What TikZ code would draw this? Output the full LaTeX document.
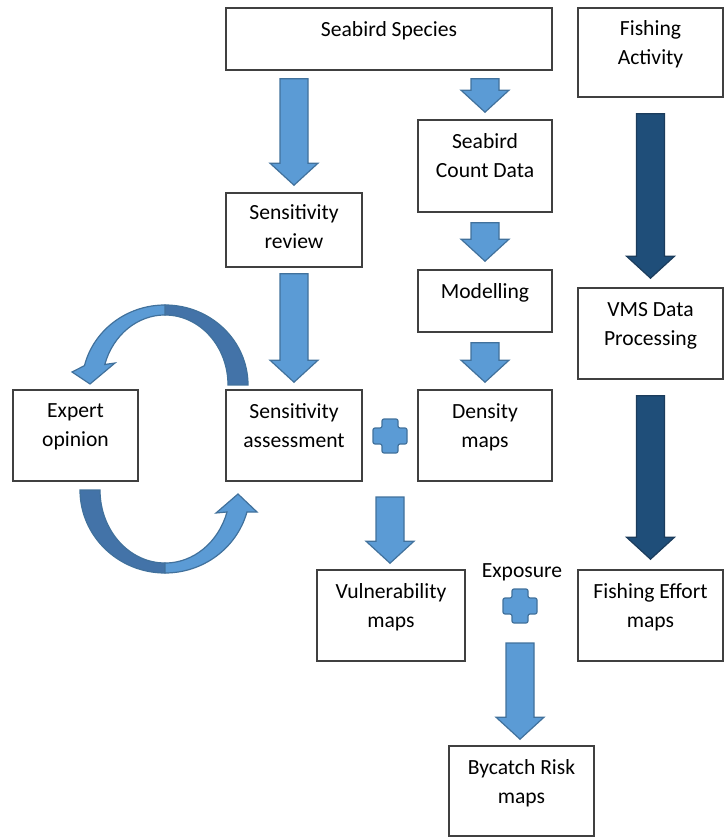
\documentclass[tikz,border=0pt]{standalone}
\usepackage{fontspec}
\setmainfont{Carlito}
\usepackage{tikz}
\usetikzlibrary{calc, positioning}

\definecolor{boxline}{RGB}{64,64,64}
\definecolor{arrowfill}{RGB}{91,155,213}
\definecolor{arrowedge}{RGB}{65,113,156}
\definecolor{arrowdark}{RGB}{31,78,121}
\definecolor{arrowdarkedge}{RGB}{27,60,92}
\definecolor{curveback}{RGB}{67,115,168}

% block arrow pointing down: style, start point, tip point
\newcommand{\downblock}[3]{%
  \draw[#1] let \p1=(#2), \p2=(#3) in
    (\x1-7pt,\y1) -- (\x1+7pt,\y1) -- (\x1+7pt,\y2+11pt) -- (\x1+12pt,\y2+11pt)
    -- (\x1,\y2) -- (\x1-12pt,\y2+11pt) -- (\x1-7pt,\y2+11pt) -- cycle;}

% plus sign around a named coordinate
\newcommand{\plusmark}[1]{%
  \draw[plussign, shift={(#1)}] (-8,17) -- (8,17) -- (8,8) -- (17,8) -- (17,-8)
    -- (8,-8) -- (8,-17) -- (-8,-17) -- (-8,-8) -- (-17,-8) -- (-17,8) -- (-8,8) -- cycle;}

\begin{document}
\begin{tikzpicture}[x=0.5pt, y=0.5pt,
    box/.style={draw=boxline, line width=0.8pt, fill=white, align=center,
      inner sep=2pt, text depth=10pt, font=\fontsize{10.8pt}{14.5pt}\selectfont},
    lightarrow/.style={fill=arrowfill, draw=arrowedge, line width=0.6pt},
    darkarrow/.style={fill=arrowdark, draw=arrowdarkedge, line width=0.6pt},
    plussign/.style={fill=arrowfill, draw=arrowedge, line width=0.6pt, rounded corners=1pt},
    curvefront/.style={fill=arrowfill, draw=arrowedge, line width=0.6pt},
    curveback/.style={fill=curveback, draw=arrowedge, line width=0.6pt}]

    \useasboundingbox (0,0) rectangle (724,-838);

    % Boxes
    \node[box, minimum width=163pt, minimum height=31pt] (ss) at (389,-39) {Seabird Species};
    \node[box, minimum width=72.5pt, minimum height=44.5pt] (fa) at (650.5,-52.5) {Fishing\\Activity};
    \node[box, minimum width=67pt, minimum height=46pt] (cd) at (485,-166) {Seabird\\Count Data};
    \node[box, minimum width=68pt, minimum height=37pt, text depth=3pt] (sr) at (294,-230) {Sensitivity\\review};
    \node[box, minimum width=67pt, minimum height=31pt] (mo) at (485,-301) {Modelling};
    \node[box, minimum width=72.5pt, minimum height=45.5pt] (vms) at (650.5,-333.5) {VMS Data\\Processing};
    \node[box, minimum width=62.5pt, minimum height=45.5pt] (eo) at (75.5,-435.5) {Expert\\opinion};
    \node[box, minimum width=68pt, minimum height=45.5pt] (sa) at (294,-435.5) {Sensitivity\\assessment};
    \node[box, minimum width=67pt, minimum height=45.5pt] (dm) at (485,-435.5) {Density\\maps};
    \node[box, minimum width=74pt, minimum height=45.5pt] (vm) at (391,-615.5) {Vulnerability\\maps};
    \node[box, minimum width=72.5pt, minimum height=45.5pt] (fe) at (650.5,-615.5) {Fishing Effort\\maps};
    \node[box, minimum width=72.5pt, minimum height=45pt] (br) at (521.5,-791) {Bycatch Risk\\maps};

    % Plus signs
    \coordinate (p1) at (390,-436);
    \coordinate (p2) at (520,-606);
    \plusmark{p1}
    \plusmark{p2}
    \node[font=\fontsize{10.8pt}{14.5pt}\selectfont] (ex) at (522,-572) {Exposure};

    % Straight arrows
    \downblock{lightarrow}{[yshift=-4pt]sr.north |- ss.south}{[yshift=3.5pt]sr.north}
    \downblock{lightarrow}{[yshift=-4pt]cd.north |- ss.south}{[yshift=3.5pt]cd.north}
    \downblock{lightarrow}{[yshift=-5pt]cd.south}{[yshift=4pt]mo.north}
    \downblock{lightarrow}{[yshift=-5pt]mo.south}{[yshift=3.5pt]dm.north}
    \downblock{lightarrow}{[yshift=-3pt]sr.south}{[yshift=3.5pt]sa.north}
    \downblock{lightarrow}{[yshift=-30.5pt]p1}{[yshift=3pt]vm.north}
    \downblock{lightarrow}{[yshift=-18.5pt]p2}{[yshift=3pt]br.north}
    \downblock{darkarrow}{[yshift=-8pt]fa.south}{[yshift=4.5pt]vms.north}
    \downblock{darkarrow}{[yshift=-8pt]vms.south}{[yshift=5pt]fe.north}

    % Curved arrow: assessment back to expert opinion
    \draw[curveback] (248,-385) arc[start angle=0, end angle=90, x radius=83, y radius=80]
      -- (165,-315) arc[start angle=90, end angle=0, x radius=63, y radius=70] -- cycle;
    \draw[curvefront] (165,-305) arc[start angle=90, end angle=166, x radius=83, y radius=80]
      -- (72,-372) -- (90,-384) -- (115,-363) -- (104.8,-364.5)
      arc[start angle=163, end angle=90, x radius=63, y radius=70] -- cycle;

    % Curved arrow: expert opinion to assessment
    \draw[curveback] (80,-490) arc[start angle=180, end angle=270, x radius=85, y radius=83]
      -- (165,-563) arc[start angle=270, end angle=180, x radius=65, y radius=73] -- cycle;
    \draw[curvefront] (165,-573) arc[start angle=270, end angle=344.6, x radius=85, y radius=83]
      -- (257,-512) -- (238,-494) -- (216,-513) -- (227,-512)
      arc[start angle=342.5, end angle=270, x radius=65, y radius=73] -- cycle;

\end{tikzpicture}
\end{document}
